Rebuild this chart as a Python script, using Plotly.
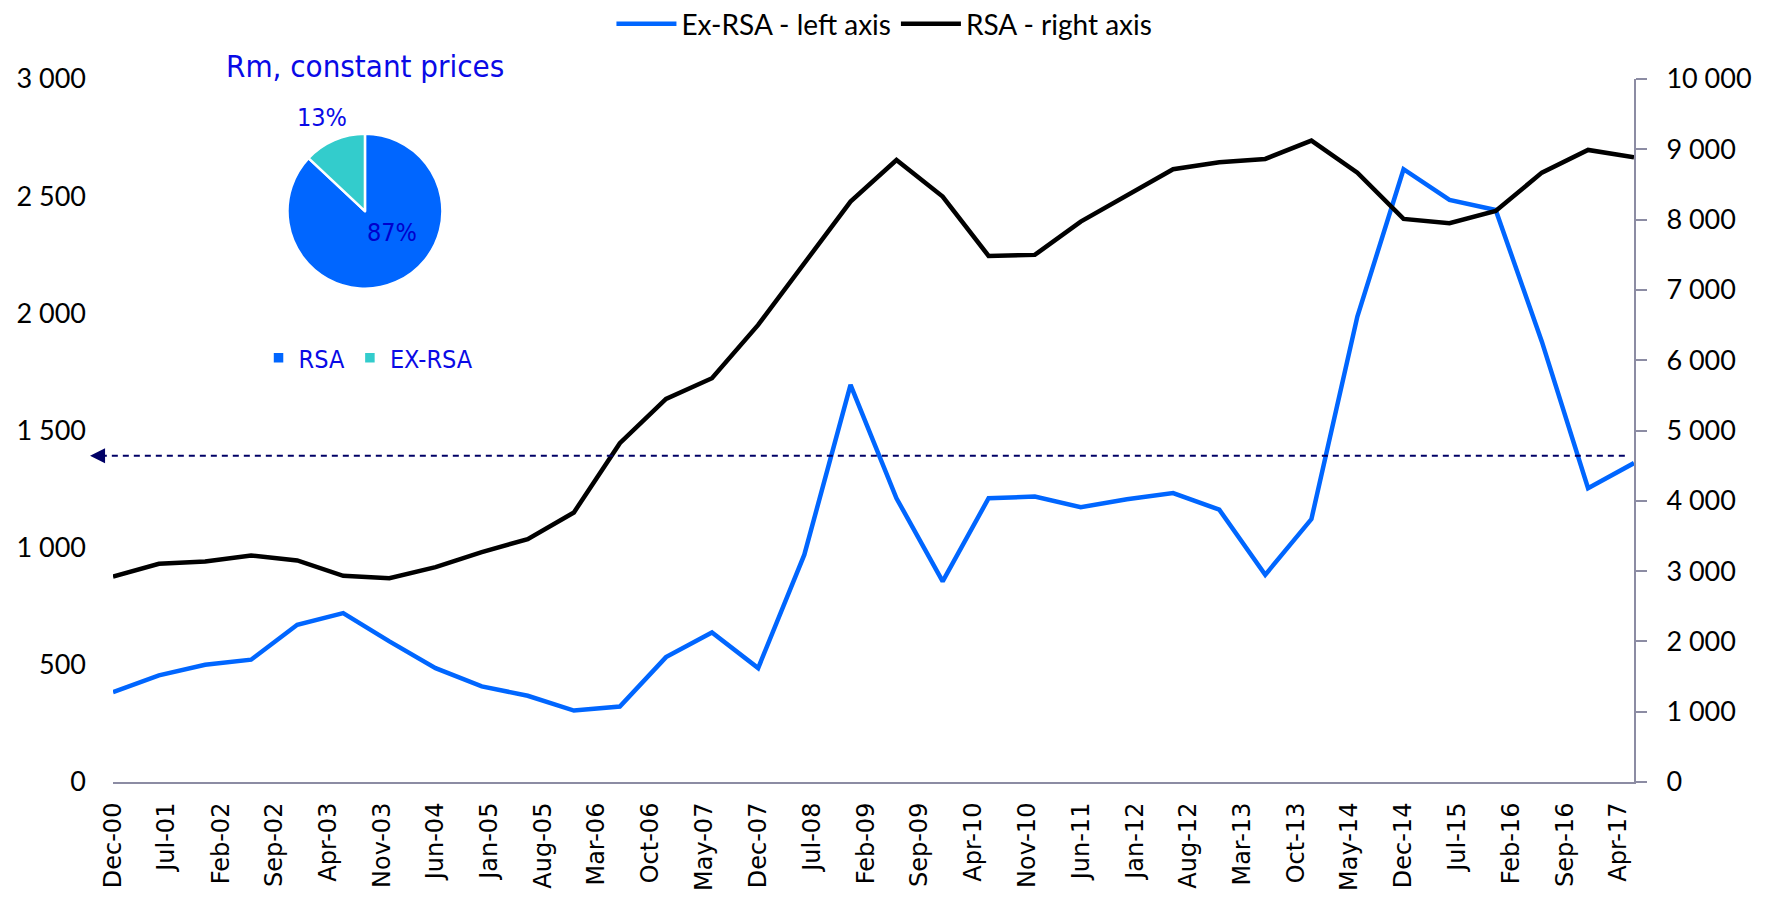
import pandas as pd
import plotly.graph_objects as go

# ---------------- data ----------------
periods = pd.date_range("2000-12-01", periods=34, freq="6MS")

ex_rsa = [384, 455, 500, 522, 671, 721, 600, 486, 408, 368, 305, 322, 533, 638, 486,
          970, 1695, 1211, 856, 1211, 1218, 1173, 1207, 1233, 1162, 884, 1122, 1986,
          2615, 2484, 2441, 1879, 1254, 1361]

rsa = [2923, 3104, 3137, 3222, 3151, 2933, 2900, 3057, 3270, 3455, 3834, 4820, 5450,
       5744, 6502, 7380, 8256, 8848, 8327, 7483, 7498, 7971, 8337, 8716, 8816, 8863,
       9123, 8668, 8010, 7948, 8123, 8668, 8991, 8887]

pie_labels = ["RSA", "EX-RSA"]
pie_shares = [87, 13]

ref_level = 1392  # dashed reference line, left axis

left_ticks = [0, 500, 1000, 1500, 2000, 2500, 3000]
right_ticks = [0, 1000, 2000, 3000, 4000, 5000, 6000, 7000, 8000, 9000, 10000]

# ---------------- styles ----------------
BLUE = "#0066FF"
TEAL = "#33CCCC"
AXIS = "#8C8CA3"
NAVY = "#000066"
TXT_BLUE = "#0A0AE6"
F_NUM = "Lato"
F_X = "DejaVu Sans"
F_PIE = "DejaVu Sans Condensed, DejaVu Sans"

fig = go.Figure()

fig.add_trace(go.Scatter(
    x=periods, y=ex_rsa, name="Ex-RSA - left axis", mode="lines",
    line=dict(color=BLUE, width=4.5), yaxis="y", legend="legend"))
fig.add_trace(go.Scatter(
    x=periods, y=rsa, name="RSA - right axis", mode="lines",
    line=dict(color="#000000", width=4.5), yaxis="y2", legend="legend"))

fig.add_trace(go.Pie(
    labels=pie_labels, values=pie_shares, sort=False, direction="clockwise",
    rotation=0, textinfo="none", hoverinfo="label+percent",
    marker=dict(colors=[BLUE, TEAL], line=dict(color="white", width=2.5)),
    domain=dict(x=[0.1147, 0.2166], y=[0.7018, 0.9222]),
    legend="legend2", showlegend=True))

# pie percentage labels
pie_label_pos = [(0.1834, 0.781, "#0000CC"), (0.1371, 0.9446, TXT_BLUE)]
for share, (px, py, col) in zip(pie_shares, pie_label_pos):
    fig.add_annotation(x=px, y=py, xref="paper", yref="paper", showarrow=False,
                       xanchor="center", yanchor="middle",
                       text=f"{share:.0f}%", font=dict(family=F_PIE, size=25, color=col))

# pie title
fig.add_annotation(x=0.1657, y=1.019, xref="paper", yref="paper", showarrow=False,
                   xanchor="center", yanchor="middle",
                   text="Rm, constant prices",
                   font=dict(family=F_PIE, size=31, color=TXT_BLUE))

# dashed reference line with arrowhead on the left
fig.add_shape(type="line", xref="paper", yref="y", x0=-0.008, x1=0.9954,
              y0=ref_level, y1=ref_level,
              line=dict(color=NAVY, width=2, dash="6px,5px"))
fig.add_annotation(x=-0.0151, y=ref_level, xref="paper", yref="y", text="",
                   showarrow=True, ax=16, ay=0, arrowhead=2, arrowsize=1.5,
                   arrowwidth=2, arrowcolor=NAVY)

fig.update_layout(
    width=1755, height=887,
    margin=dict(l=105, r=129, t=71, b=113, autoexpand=False),
    paper_bgcolor="white", plot_bgcolor="white",
    separators=". ",
    showlegend=True,
    xaxis=dict(
        type="date", range=[periods[0], periods[-1]],
        tick0="2000-12-01", dtick="M7", tickformat="%b-%y", tickangle=-90,
        showgrid=False, zeroline=False, showline=True, linecolor=AXIS, linewidth=2,
        ticks="", ticklabelstandoff=9,
        tickfont=dict(family=F_X, size=24, color="#000000")),
    yaxis=dict(
        range=[0, 3000], tickvals=left_ticks, tickformat=",d",
        showgrid=False, zeroline=False, showline=False, ticks="",
        ticklabelstandoff=26,
        tickfont=dict(family=F_NUM, size=27, color="#000000")),
    yaxis2=dict(
        range=[0, 10000], tickvals=right_ticks, tickformat=",d",
        overlaying="y", side="right", anchor="x",
        showgrid=False, zeroline=False, showline=True, linecolor=AXIS, linewidth=2,
        ticks="outside", ticklen=11, tickwidth=2, tickcolor=AXIS,
        ticklabelstandoff=14,
        tickfont=dict(family=F_NUM, size=27, color="#000000")),
    legend=dict(
        orientation="h", xref="container", yref="container",
        x=0.4994, xanchor="center", y=0.982, yanchor="middle",
        font=dict(family=F_NUM, size=28, color="#000000"),
        bgcolor="rgba(0,0,0,0)", itemwidth=60, traceorder="normal"),
    legend2=dict(
        orientation="h", x=0.168, xanchor="center", y=0.603, yanchor="middle",
        font=dict(family=F_PIE, size=25, color=TXT_BLUE),
        bgcolor="rgba(0,0,0,0)"),
)

fig.write_html("out.html")
